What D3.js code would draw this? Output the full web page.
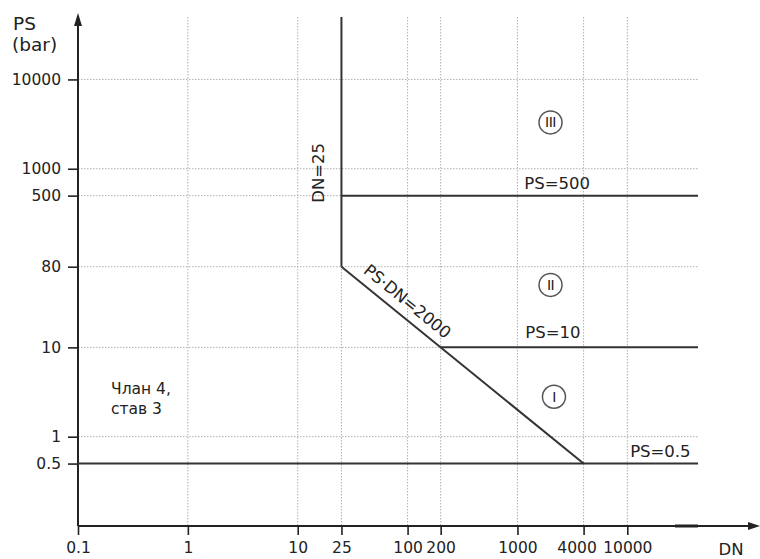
<!DOCTYPE html>
<html>
<head>
<meta charset="utf-8">
<script src="https://cdn.jsdelivr.net/npm/d3@7"></script>
<style>
  body { margin: 0; background: #fff; }
  text { font-family: "DejaVu Sans", sans-serif; fill: #222; }
</style>
</head>
<body>
<div id="chartDIV"></div>
<script>

// axis ticks
xTicks = [0.1, 1, 10, 25, 100, 200, 1000, 4000, 10000]
yTicks = [0.5, 1, 10, 80, 500, 1000, 10000]
xGrid = [1, 10, 25, 100, 200, 1000, 4000, 10000]
yGrid = [1, 10, 80, 500, 1000, 10000]

// plot limits (DN, PS)
dnMin = 0.1
dnMax = 44000
psMin = 0.1
psMax = 50000

// category boundaries, [DN, PS] pairs
ps500Line = [[25, 500], [dnMax, 500]]
ps10Line = [[200, 10], [dnMax, 10]]
ps05Line = [[dnMin, 0.5], [dnMax, 0.5]]
dn25Line = [[25, psMax], [25, 80]]
psdnLine = [[25, 80], [4000, 0.5]]

// category marks
catNames = ["III", "II", "I"]
catDN = [2000, 2000, 2150]
catPS = [3300, 50, 2.8]


function drawLine(svg, pts)
{
  var line = d3.line()
  .x(function(d){ return x(d[0]) })
  .y(function(d){ return y(d[1]) })

  svg.append("path")
  .attr("d", line(pts))
  .attr("fill", "none")
  .attr("stroke", "#333")
  .attr("stroke-width", 2)
}

var svg = d3.select("#chartDIV").append("svg")
.attr("width", 760)
.attr("height", 559)

x = d3.scaleLog().domain([dnMin, dnMax]).range([78, 698])
y = d3.scaleLog().domain([psMin, psMax]).range([526, 17])

var plotLeft = x(dnMin)
var plotRight = x(dnMax)
var plotBottom = y(psMin)
var plotTop = y(psMax)

// grid
svg.append("g").selectAll("line")
.data(xGrid)
.enter()
.append("line")
.attr("x1", function(d){ return x(d) })
.attr("x2", function(d){ return x(d) })
.attr("y1", plotTop)
.attr("y2", plotBottom)
.attr("stroke", "#b0b0b0")
.attr("stroke-width", 1)
.attr("stroke-dasharray", "1.5,1.5")

svg.append("g").selectAll("line")
.data(yGrid)
.enter()
.append("line")
.attr("x1", plotLeft)
.attr("x2", plotRight)
.attr("y1", function(d){ return y(d) })
.attr("y2", function(d){ return y(d) })
.attr("stroke", "#b0b0b0")
.attr("stroke-width", 1)
.attr("stroke-dasharray", "1.5,1.5")

// axes
var xAxis = svg.append("g")
.attr("transform", "translate(0," + plotBottom + ")")
.call(d3.axisBottom(x).tickValues(xTicks).tickSize(9).tickPadding(7).tickFormat(function(d){ return d }))

var yAxis = svg.append("g")
.attr("transform", "translate(" + plotLeft + ",0)")
.call(d3.axisLeft(y).tickValues(yTicks).tickSize(10).tickPadding(7).tickFormat(function(d){ return d }))

xAxis.select(".domain").remove()
yAxis.select(".domain").remove()

svg.selectAll(".tick line").attr("stroke", "#222").attr("stroke-width", 1.6)
svg.selectAll(".tick text")
.style("font-family", "DejaVu Sans")
.style("font-size", "15.5px")
.attr("fill", "#222")

// 4000 label sits a little left of its tick in the original
xAxis.selectAll(".tick text")
.filter(function(d){ return d == 4000 })
.attr("dx", -7)

svg.append("line")
.attr("x1", plotLeft).attr("x2", 752)
.attr("y1", plotBottom).attr("y2", plotBottom)
.attr("stroke", "#222").attr("stroke-width", 2)

svg.append("line")
.attr("x1", 675).attr("x2", 698)
.attr("y1", plotBottom).attr("y2", plotBottom)
.attr("stroke", "#222").attr("stroke-width", 3)

svg.append("path")
.attr("d", "M760," + plotBottom + " L748," + (plotBottom - 4) + " L748," + (plotBottom + 4) + " Z")
.attr("fill", "#222")

svg.append("line")
.attr("x1", plotLeft).attr("x2", plotLeft)
.attr("y1", plotBottom).attr("y2", 24)
.attr("stroke", "#222").attr("stroke-width", 2)

svg.append("path")
.attr("d", "M" + plotLeft + ",13 L" + (plotLeft - 4) + ",26 L" + (plotLeft + 4) + ",26 Z")
.attr("fill", "#222")

// boundaries
drawLine(svg, ps500Line)
drawLine(svg, ps10Line)
drawLine(svg, ps05Line)
drawLine(svg, dn25Line)
drawLine(svg, psdnLine)

// axis titles
svg.append("text").attr("x", 13).attr("y", 30).style("font-size", "18.5px").text("PS")
svg.append("text").attr("x", 12).attr("y", 51).style("font-size", "18.5px").text("(bar)")
svg.append("text").attr("x", 731).attr("y", 555).attr("text-anchor", "middle").style("font-size", "16.5px").text("DN")

// line labels
svg.append("text")
.attr("x", x(2300)).attr("y", y(500) - 7)
.attr("text-anchor", "middle")
.style("font-size", "16.5px")
.text("PS=500")

svg.append("text")
.attr("x", x(2100)).attr("y", y(10) - 9)
.attr("text-anchor", "middle")
.style("font-size", "16.5px")
.text("PS=10")

svg.append("text")
.attr("x", x(20000)).attr("y", y(0.5) - 7)
.attr("text-anchor", "middle")
.style("font-size", "16.5px")
.text("PS=0.5")

svg.append("text")
.attr("transform", "translate(" + (x(25) - 17) + "," + y(900) + ") rotate(-90)")
.attr("text-anchor", "middle")
.style("font-size", "16.5px")
.text("DN=25")

var p0 = [x(psdnLine[0][0]), y(psdnLine[0][1])]
var p1 = [x(psdnLine[1][0]), y(psdnLine[1][1])]
var ang = Math.atan2(p1[1] - p0[1], p1[0] - p0[0]) * 180 / Math.PI

svg.append("text")
.attr("transform", "translate(" + x(82) + "," + y(2000 / 82) + ") rotate(" + ang + ")")
.attr("text-anchor", "middle")
.attr("dy", "-0.55em")
.style("font-size", "16.5px")
.text("PS·DN=2000")

svg.append("text").attr("x", 111).attr("y", 394).style("font-size", "15.5px").text("Члан 4,")
svg.append("text").attr("x", 111).attr("y", 414).style("font-size", "15.5px").text("став 3")

// category marks
var cats = svg.append("g").selectAll("g")
.data(catNames)
.enter()
.append("g")
.attr("transform", function(d, i){ return "translate(" + x(catDN[i]) + "," + y(catPS[i]) + ")" })

cats.append("circle")
.attr("r", 11.5)
.attr("fill", "#fff")
.attr("stroke", "#555")
.attr("stroke-width", 1.5)

cats.append("text")
.attr("text-anchor", "middle")
.attr("dy", "0.36em")
.style("font-size", "14px")
.style("letter-spacing", "-0.5px")
.attr("fill", "#444")
.text(function(d){ return d })

</script>
</body>
</html>
